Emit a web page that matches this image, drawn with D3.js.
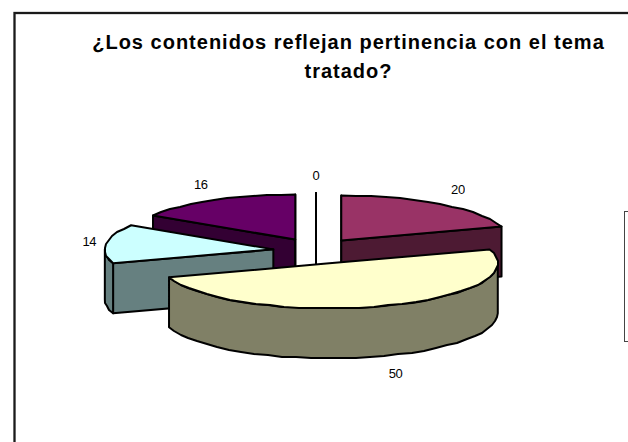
<!DOCTYPE html>
<html>
<head>
<meta charset="utf-8">
<script src="https://cdn.jsdelivr.net/npm/d3@7"></script>
<style>
html,body{margin:0;padding:0;background:#fff;overflow:hidden}
svg{display:block}
text{font-family:"Liberation Sans",Arial,sans-serif;fill:#000;opacity:.99}
</style>
</head>
<body>
<svg id="chart" width="628" height="442"></svg>
<script>
const titleLines = ["¿Los contenidos reflejan pertinencia con el tema", "tratado?"];
const sliceValues = [20, 50, 14, 16, 0];
const topColors = ["#993366", "#ffffcc", "#ccffff", "#660066", "#ffffff"];
const wallColors = ["#4d1a33", "#808066", "#668080", "#330033", "#808080"];

const W = 628, H = 442;
const cx = 316, cy = 251, rx = 168.5, ry = 45, depth = 50;
const explodeX = 43, explodeY = 13;

const svg = d3.select("#chart");

// chart-area and legend frames run past the edge of the window
svg.append("rect").attr("x", 14.5).attr("y", 13).attr("width", W + 20).attr("height", H + 20)
  .attr("fill", "#fff").attr("stroke", "#1a1a1a").attr("stroke-width", 2.3);
svg.append("rect").attr("x", 624.5).attr("y", 211.5).attr("width", 30).attr("height", 130)
  .attr("fill", "#fff").attr("stroke", "#444").attr("stroke-width", 1);

const pie = d3.pie().sort(null).startAngle(0).endAngle(2 * Math.PI).value(d => d);
const arcs = pie(sliceValues).map((a, i) => {
  const mid = (a.startAngle + a.endAngle) / 2;
  return {...a, i, mid,
    ax: cx + explodeX * Math.sin(mid),
    ay: cy - explodeY * Math.cos(mid)};
}).sort((p, q) => p.ay - q.ay);

const line = d3.line();
const rimPoint = (s, t, dz = 0) => [s.ax + rx * Math.sin(t), s.ay - ry * Math.cos(t) + dz];
// the rim is a coarse, pixel-snapped polyline, which gives the slightly rough edge of the original
const arcPoints = (s, t0, t1, dz = 0) => {
  const n = Math.max(1, Math.ceil(Math.abs(t1 - t0) / 0.09));
  return d3.range(n + 1).map(k => {
    const p = rimPoint(s, t0 + (t1 - t0) * k / n, dz);
    return k === 0 || k === n ? p : [Math.round(p[0]), Math.round(p[1])];
  });
};

const g = svg.append("g").attr("stroke", "#000").attr("stroke-width", 2).attr("stroke-linejoin", "round");

arcs.forEach(s => {
  const wall = t => {
    const p = rimPoint(s, t);
    g.append("path")
      .attr("d", line([[s.ax, s.ay], p, [p[0], p[1] + depth], [s.ax, s.ay + depth]]) + "Z")
      .attr("fill", wallColors[s.i]);
  };
  if (Math.sin(s.startAngle) < 0.001) wall(s.startAngle);
  if (Math.sin(s.endAngle) > -0.001) wall(s.endAngle);

  const r0 = Math.max(s.startAngle, Math.PI / 2), r1 = Math.min(s.endAngle, 3 * Math.PI / 2);
  if (r1 > r0) {
    const upper = arcPoints(s, r0, r1);
    const lower = arcPoints(s, r1, r0, depth);
    g.append("path").attr("d", line(upper.concat(lower)) + "Z").attr("fill", wallColors[s.i]);
  }
  g.append("path")
    .attr("d", line([[s.ax, s.ay]].concat(arcPoints(s, s.startAngle, s.endAngle))) + "Z")
    .attr("fill", topColors[s.i]);
});

// value labels sit just outside each slice's rim
arcs.forEach(s => {
  const c = Math.cos(s.mid), sn = Math.sin(s.mid);
  const p = rimPoint(s, s.mid, c < 0 ? depth : 0);
  const push = sn > 0 ? 21 : 17;
  svg.append("text")
    .attr("x", p[0] + push * Math.cbrt(Math.abs(sn) < 1e-6 ? 0 : sn))
    .attr("y", p[1] - 18 * c)
    .attr("dy", "0.35em")
    .attr("text-anchor", "middle")
    .attr("font-size", 13)
    .attr("letter-spacing", "-0.4px")
    .text(s.value);
});

svg.selectAll("text.title").data(titleLines).join("text")
  .attr("class", "title")
  .attr("x", 348.5)
  .attr("y", (d, i) => 48.5 + i * 29.5)
  .attr("text-anchor", "middle")
  .attr("font-size", 20)
  .attr("letter-spacing", "1px")
  .attr("font-weight", "bold")
  .text(d => d);
</script>
</body>
</html>
